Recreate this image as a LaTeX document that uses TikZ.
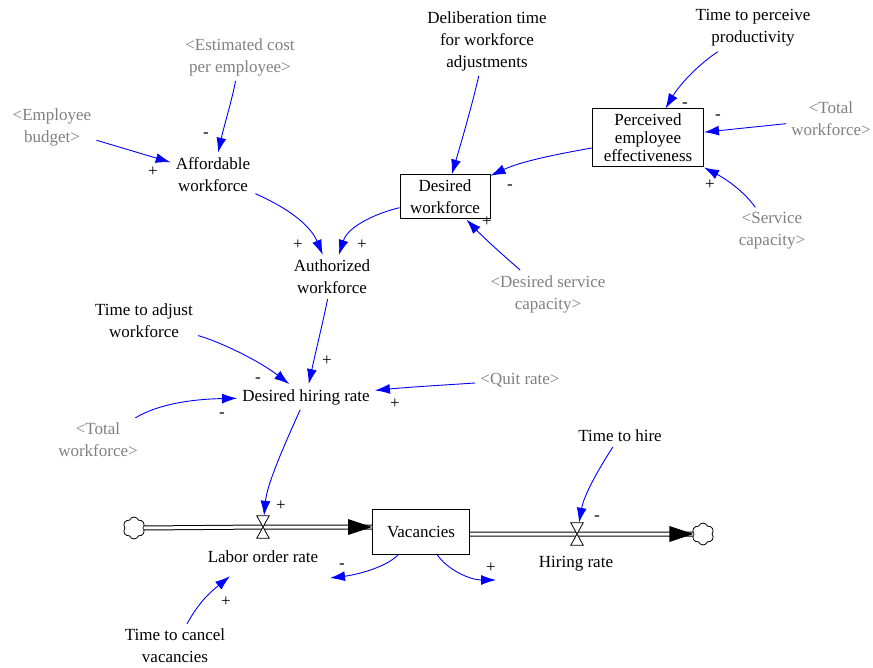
\documentclass[tikz,border=0pt]{standalone}
\usepackage{fontspec}
\setmainfont{Liberation Serif}
\newfontfamily\reffont{Liberation Serif}
\usetikzlibrary{arrows.meta,shapes.symbols}
\definecolor{refgray}{RGB}{128,128,128}
\definecolor{refblue}{RGB}{0,0,255}
\begin{document}
\begin{tikzpicture}[x=1pt,y=-1pt,
  var/.style={font=\reffont\fontsize{17}{22}\selectfont, align=center, inner sep=5pt},
  shadowvar/.style={var, text=refgray},
  stockbox/.style={draw, line width=1pt, align=center, inner sep=0pt, font=\reffont\fontsize{17}{18}\selectfont},
  link/.style={refblue, line width=0.9pt, -{Latex[length=15pt,width=10pt]}},
  sign/.style={font=\reffont\fontsize{17}{17}\selectfont, inner sep=0pt},
  valvebox/.style={minimum width=12pt, minimum height=22pt, inner sep=0pt},
  valveshape/.style={draw=black, fill=white, line width=0.8pt},
  cloudnode/.style={cloud, cloud puffs=6, cloud puff arc=140, aspect=1, draw, line width=0.8pt, minimum width=22pt, minimum height=22pt, inner sep=0pt},
  pipe/.style={double=white, double distance=3pt, line width=1pt, draw=black}
]
\useasboundingbox (0,0) rectangle (873,668);

% variables
\node[shadowvar] (ecost) at (240,57) {<Estimated cost\\per employee>};
\node[shadowvar] (budget) at (52,127) {<Employee\\budget>};
\node[var] (aff) at (213,175) {Affordable\\workforce};
\node[var] (delib) at (487,41) {Deliberation time\\for workforce\\adjustments};
\node[var] (ttpp) at (753,28) {Time to perceive\\productivity};
\node[stockbox, minimum width=111pt, minimum height=58pt] (pee) at (648,138) {Perceived\\employee\\effectiveness};
\node[shadowvar] (tw1) at (831,119) {<Total\\workforce>};
\node[stockbox, minimum width=90pt, minimum height=44pt, font=\reffont\fontsize{17}{22}\selectfont] (dw) at (445,197) {Desired\\workforce};
\node[shadowvar] (svc) at (772,231) {<Service\\capacity>};
\node[shadowvar] (dsc) at (548,294) {<Desired service\\capacity>};
\node[var] (auth) at (332,277) {Authorized\\workforce};
\node[var] (tadj) at (144,321) {Time to adjust\\workforce};
\node[var] (dhr) at (306,397) {Desired hiring rate};
\node[shadowvar] (quit) at (520,380) {<Quit rate>};
\node[shadowvar] (tw2) at (98,440) {<Total\\workforce>};
\node[var] (thire) at (620,436) {Time to hire};
\node[stockbox, minimum width=97pt, minimum height=45pt] (vac) at (421,532) {Vacancies};
\node[var] (tcancel) at (175,646) {Time to cancel\\vacancies};

% flows
\node[cloudnode] (cloudL) at (134,528) {};
\node[cloudnode] (cloudR) at (703,534) {};
\node[valvebox] (lorv) at (263,527) {};
\node[valvebox] (hrv) at (577,534) {};
\node[var] (lorlab) at (263,557) {Labor order rate};
\node[var] (hrlab) at (576,564) {Hiring rate};

\draw[pipe] (cloudL.east) -- (lorv.center) -- (vac.west |- lorv.center);
\fill[black] (vac.west |- lorv.center) -- ++(-24,-8) -- ++(0,16) -- cycle;
\draw[pipe] (vac.east |- hrv.center) -- (hrv.center) -- (cloudR.west);
\fill[black] (cloudR.west) -- ++(-24,-8) -- ++(0,16) -- cycle;

\draw[valveshape] (lorv.north west) -- (lorv.north east) -- (lorv.south west) -- (lorv.south east) -- cycle;
\draw[valveshape] (hrv.north west) -- (hrv.north east) -- (hrv.south west) -- (hrv.south east) -- cycle;

% free ends
\coordinate (vfreeL) at (330,578);
\coordinate (vfreeR) at (496,580);

% links
\draw[link] (ecost) .. controls (232,100) and (225,122) .. (aff);
\draw[link] (budget) -- (aff);
\draw[link] (aff) .. controls (281,205) and (309,222) .. (auth);
\draw[link] (dw) .. controls (377,213) and (348,226) .. (auth);
\draw[link] (delib) .. controls (472,105) and (462,140) .. (dw);
\draw[link] (pee) .. controls (558,154) and (522,161) .. (dw);
\draw[link] (ttpp) .. controls (698,65) and (680,84) .. (pee);
\draw[link] (tw1) -- (pee);
\draw[link] (svc) .. controls (743,190) and (724,178) .. (pee);
\draw[link] (dsc) .. controls (505,257) and (484,238) .. (dw);
\draw[link] (auth) .. controls (323,322) and (316,350) .. (dhr);
\draw[link] (tadj) .. controls (218,341) and (258,360) .. (dhr);
\draw[link] (tw2) .. controls (162,402) and (200,399) .. (dhr);
\draw[link] (quit) .. controls (445,385) and (410,387) .. (dhr);
\draw[link] (dhr) .. controls (282,450) and (267,485) .. (lorv);
\draw[link] (thire) .. controls (598,470) and (584,495) .. (hrv);
\draw[link] (vac) .. controls (385,568) and (355,575) .. (vfreeL);
\draw[link] (vac) .. controls (448,570) and (470,580) .. (vfreeR);
\draw[link] (tcancel) .. controls (200,600) and (213,590) .. ([shift={(-33,8)}]lorlab.south);

% polarities
\node[sign] at (206,135) {-};
\node[sign] at (153,172) {+};
\node[sign] at (298,245) {+};
\node[sign] at (362,245) {+};
\node[sign] at (510,187) {-};
\node[sign] at (685,105) {-};
\node[sign] at (718,117) {-};
\node[sign] at (710,185) {+};
\node[sign] at (487,222) {+};
\node[sign] at (327,361) {+};
\node[sign] at (258,380) {-};
\node[sign] at (222,415) {-};
\node[sign] at (395,404) {+};
\node[sign] at (281,506) {+};
\node[sign] at (597,518) {-};
\node[sign] at (342,566) {-};
\node[sign] at (491,568) {+};
\node[sign] at (226,602) {+};
\end{tikzpicture}
\end{document}
